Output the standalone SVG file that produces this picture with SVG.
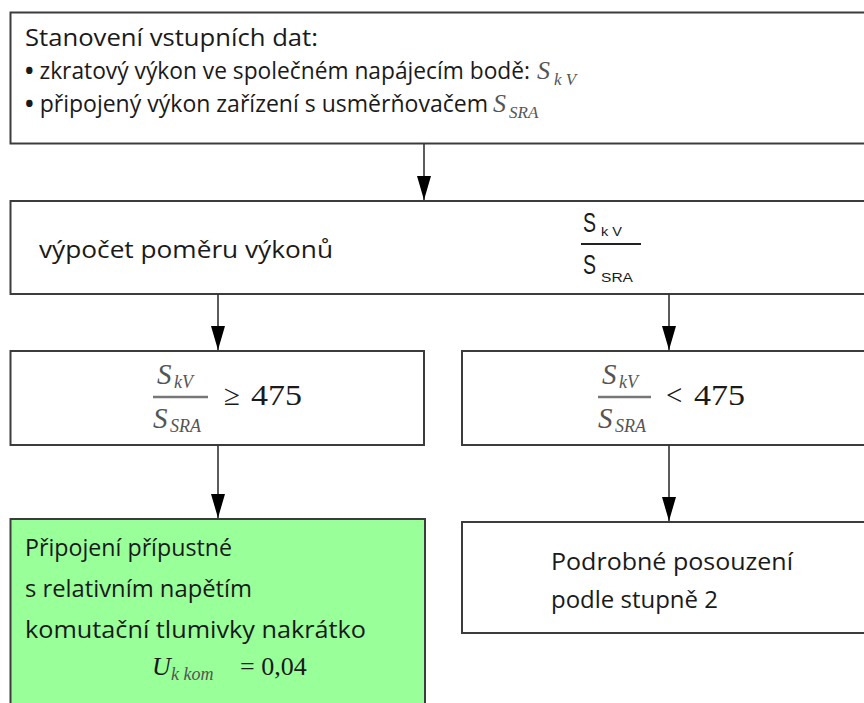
<svg xmlns="http://www.w3.org/2000/svg" width="864" height="703" viewBox="0 0 864 703">
  <style>
    .box { fill: #ffffff; stroke: #3c3c3c; stroke-width: 2; }
    .ok { fill: #99ff99; }
    .t { font-family: "Open Sans", "Noto Sans", sans-serif; font-size: 23px; fill: #1a1a1a; }
    .mi { font-family: "Liberation Serif", "DejaVu Serif", serif; font-style: italic; fill: #555555; }
    .mr { font-family: "Liberation Serif", "DejaVu Serif", serif; fill: #1a1a1a; }
    .ms { font-family: "Liberation Sans", Arial, sans-serif; fill: #1a1a1a; }
    .bar { stroke: #777777; stroke-width: 2.5; }
    .wire { fill: none; stroke: #333333; stroke-width: 1.6; marker-end: url(#head); }
  </style>
  <defs>
    <marker id="head" viewBox="0 -7 24 14" refX="24" refY="0" markerWidth="24" markerHeight="14" markerUnits="userSpaceOnUse" orient="auto">
      <path d="M0,-7 L24,0 L0,7 Z" fill="#000000"/>
    </marker>
  </defs>

  <rect width="864" height="703" fill="#ffffff"/>

  <!-- input data -->
  <g id="input">
    <rect class="box" x="10.5" y="12.5" width="870" height="131"/>
    <text class="t" x="25" y="46" textLength="293" lengthAdjust="spacingAndGlyphs">Stanovení vstupních dat:</text>
    <text class="t" x="25" y="79" textLength="505" lengthAdjust="spacingAndGlyphs"><tspan font-weight="bold">•</tspan> zkratový výkon ve společném napájecím bodě:</text>
    <text class="mi" x="537" y="79" font-size="26">S</text>
    <text class="mi" x="554" y="85" font-size="17">k V</text>
    <text class="t" x="25" y="112" textLength="463" lengthAdjust="spacingAndGlyphs"><tspan font-weight="bold">•</tspan> připojený výkon zařízení s usměrňovačem</text>
    <text class="mi" x="493" y="112" font-size="26">S</text>
    <text class="mi" x="509" y="118" font-size="17">SRA</text>
  </g>

  <!-- power ratio -->
  <g id="ratio">
    <rect class="box" x="10.5" y="201" width="870" height="93"/>
    <text class="t" x="39" y="258" textLength="294" lengthAdjust="spacingAndGlyphs">výpočet poměru výkonů</text>
    <text class="ms" x="583" y="232" font-size="27" textLength="13" lengthAdjust="spacingAndGlyphs">S</text>
    <text class="ms" x="601" y="236" font-size="13" textLength="21" lengthAdjust="spacingAndGlyphs">k V</text>
    <line x1="581" y1="244" x2="641" y2="244" stroke="#222222" stroke-width="2"/>
    <text class="ms" x="583" y="274" font-size="27" textLength="13" lengthAdjust="spacingAndGlyphs">S</text>
    <text class="ms" x="601" y="282" font-size="13" textLength="32" lengthAdjust="spacingAndGlyphs">SRA</text>
  </g>

  <!-- ratio at least 475 -->
  <g id="ge475">
    <rect class="box" x="10.5" y="351" width="413.5" height="94"/>
    <text class="mi" x="157" y="384" font-size="29">S</text>
    <text class="mi" x="174" y="388" font-size="18">kV</text>
    <line class="bar" x1="153" y1="397" x2="208" y2="397"/>
    <text class="mi" x="153" y="428" font-size="29">S</text>
    <text class="mi" x="170" y="432" font-size="18">SRA</text>
    <text class="mr" x="224" y="405" font-size="29">≥</text>
    <text class="mr" x="251" y="405" font-size="30" textLength="51" lengthAdjust="spacingAndGlyphs">475</text>
  </g>

  <!-- ratio below 475 -->
  <g id="lt475">
    <rect class="box" x="462" y="351" width="420" height="94"/>
    <text class="mi" x="602" y="384" font-size="29">S</text>
    <text class="mi" x="619" y="388" font-size="18">kV</text>
    <line class="bar" x1="598" y1="397" x2="651" y2="397"/>
    <text class="mi" x="598" y="428" font-size="29">S</text>
    <text class="mi" x="615" y="432" font-size="18">SRA</text>
    <text class="mr" x="666" y="405" font-size="29">&lt;</text>
    <text class="mr" x="694" y="405" font-size="30" textLength="51" lengthAdjust="spacingAndGlyphs">475</text>
  </g>

  <!-- connection permitted -->
  <g id="permitted">
    <rect class="box ok" x="10.5" y="519" width="414.5" height="200"/>
    <text class="t" x="25" y="556" textLength="207" lengthAdjust="spacingAndGlyphs">Připojení přípustné</text>
    <text class="t" x="25" y="597" textLength="227" lengthAdjust="spacingAndGlyphs">s relativním napětím</text>
    <text class="t" x="25" y="638" textLength="341" lengthAdjust="spacingAndGlyphs">komutační tlumivky nakrátko</text>
    <text class="mi" x="152" y="675" font-size="26" style="fill:#1a1a1a">U</text>
    <text class="mi" x="171" y="680" font-size="18">k kom</text>
    <text class="mr" x="240" y="675" font-size="26">= 0,04</text>
  </g>

  <!-- detailed assessment -->
  <g id="detailed">
    <rect class="box" x="462" y="522" width="420" height="111"/>
    <text class="t" x="551" y="570" textLength="242" lengthAdjust="spacingAndGlyphs">Podrobné posouzení</text>
    <text class="t" x="551" y="608" textLength="167" lengthAdjust="spacingAndGlyphs">podle stupně 2</text>
  </g>

  <g id="connectors">
    <path class="wire" d="M424,143.5 V200"/>
    <path class="wire" d="M218,294 V350"/>
    <path class="wire" d="M669,294 V350"/>
    <path class="wire" d="M218,445 V518"/>
    <path class="wire" d="M669,445 V521"/>
  </g>
</svg>
